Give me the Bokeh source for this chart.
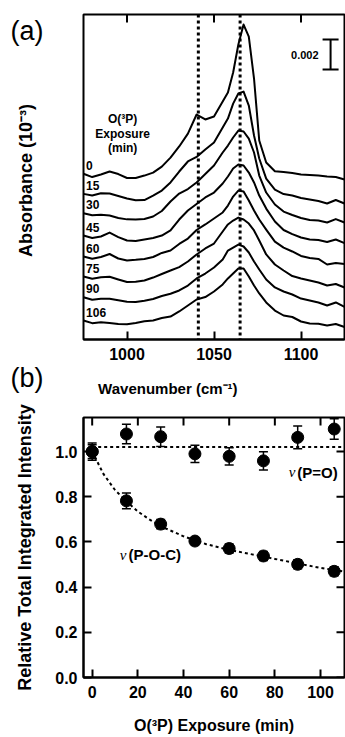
import math
from bokeh.plotting import figure
from bokeh.layouts import column, row
from bokeh.models import (Range1d, LinearAxis, FixedTicker, Span,
                          ColumnDataSource, Whisker, TeeHead, PrintfTickFormatter)
from bokeh.core.properties import value
from bokeh.embed import file_html
from bokeh.resources import INLINE

# ---------------- data: panel (a) ----------------
wavenumber = [975, 980, 985, 990, 995, 1000, 1005, 1010, 1015, 1020, 1025, 1030,
              1035, 1040, 1045, 1050, 1055, 1058, 1061, 1064, 1067, 1070, 1073,
              1076, 1080, 1085, 1090, 1095, 1100, 1105, 1110, 1115, 1120, 1125]
# stacked absorbance traces (units of 1e-3, vertical offsets included as displayed)
abs_0 = [11.05, 10.83, 11.00, 11.20, 11.03, 10.77, 10.77, 10.93, 11.13, 11.53,
         12.13, 12.87, 13.73, 15.00, 14.67, 14.87, 15.87, 16.47, 17.80, 19.67,
         21.00, 20.20, 17.40, 13.27, 11.80, 11.22, 11.17, 11.10, 11.00, 10.97,
         10.93, 10.87, 10.83, 10.67]
abs_15 = [9.71, 9.60, 9.75, 9.73, 9.57, 9.40, 9.28, 9.30, 9.60, 9.93,
          10.47, 11.20, 11.87, 12.17, 12.67, 13.13, 14.13, 14.73, 15.73, 16.40,
          16.53, 15.60, 13.60, 12.07, 10.73, 10.00, 9.70, 9.60, 9.43, 9.33,
          9.23, 9.07, 9.30, 9.07]
abs_30 = [8.42, 8.29, 8.32, 8.27, 8.10, 8.01, 8.00, 8.03, 8.20, 8.57,
          9.20, 9.73, 10.03, 10.47, 11.03, 11.60, 12.47, 12.93, 13.47, 13.93,
          13.87, 13.40, 12.47, 10.93, 9.80, 9.00, 8.53, 8.30, 8.10, 7.97,
          7.93, 7.80, 8.03, 7.80]
abs_45 = [6.93, 6.77, 6.87, 7.13, 6.83, 6.60, 6.57, 6.67, 6.77, 6.93,
          7.27, 8.00, 8.60, 9.03, 9.47, 9.80, 10.40, 10.87, 11.40, 11.67,
          11.60, 11.13, 10.47, 9.60, 8.73, 7.87, 7.30, 7.03, 6.80, 6.67,
          6.63, 6.50, 6.67, 6.43]
abs_60 = [5.53, 5.38, 5.50, 5.70, 5.40, 5.27, 5.31, 5.37, 5.50, 5.77,
          5.93, 6.37, 6.73, 7.30, 7.67, 8.07, 8.47, 8.93, 9.53, 9.93,
          9.87, 9.27, 8.60, 8.00, 7.33, 6.53, 6.13, 5.87, 5.57, 5.43,
          5.37, 5.00, 5.10, 5.03]
abs_75 = [4.20, 4.05, 4.15, 4.18, 4.00, 3.83, 3.85, 3.93, 4.13, 4.37,
          4.60, 4.83, 5.20, 5.67, 6.07, 6.40, 7.20, 7.67, 7.93, 8.13,
          8.00, 7.73, 7.27, 6.60, 5.67, 5.00, 4.60, 4.23, 4.07, 3.93,
          3.80, 3.60, 3.70, 3.47]
abs_90 = [2.82, 2.65, 2.71, 2.71, 2.61, 2.52, 2.50, 2.59, 2.70, 2.90,
          3.05, 3.27, 3.60, 4.07, 4.40, 4.80, 5.33, 5.93, 6.13, 6.33,
          6.20, 5.80, 5.20, 4.67, 4.00, 3.47, 3.20, 3.00, 2.73, 2.60,
          2.47, 2.27, 2.47, 2.17]
abs_106 = [1.27, 1.09, 1.15, 1.10, 1.03, 1.01, 1.10, 1.21, 1.27, 1.43,
           1.53, 1.87, 2.27, 2.67, 2.83, 3.20, 3.67, 4.07, 4.40, 4.73,
           4.73, 4.20, 3.60, 3.07, 2.47, 1.93, 1.60, 1.50, 1.20, 1.07,
           1.05, 0.93, 1.03, 0.83]
trace_labels = ["0", "15", "30", "45", "60", "75", "90", "106"]
legend_title = ["O(³P)", "Exposure", "(min)"]
peak_positions = [1041, 1065]
wn_ticks = [1000, 1050, 1100]
scale_bar_value = 2.0   # 0.002 absorbance
scale_bar_text = "0.002"

# ---------------- data: panel (b) ----------------
exposure_min = [0, 15, 30, 45, 60, 75, 90, 106]
p_o = [1.00, 1.078, 1.066, 0.99, 0.979, 0.959, 1.063, 1.10]
p_o_err = [0.038, 0.043, 0.043, 0.038, 0.038, 0.04, 0.05, 0.045]
p_o_c = [1.00, 0.782, 0.679, 0.604, 0.571, 0.538, 0.501, 0.470]
p_o_c_err = [0.03, 0.035, 0.02, 0.015, 0.02, 0.02, 0.02, 0.02]
p_o_fit_level = 1.02
fit_t = [0, 5, 10, 15, 20, 25, 30, 40, 50, 60, 70, 80, 90, 100, 110]
fit_p_o_c = [1.0, 0.90, 0.83, 0.78, 0.735, 0.70, 0.67, 0.625, 0.59, 0.565,
             0.545, 0.525, 0.505, 0.485, 0.47]
exp_ticks = [0, 20, 40, 60, 80, 100]
rel_ticks = [0.0, 0.2, 0.4, 0.6, 0.8, 1.0]

FONT = "Liberation Sans"
traces = [abs_0, abs_15, abs_30, abs_45, abs_60, abs_75, abs_90, abs_106]


def style_axis(ax, ticks):
    ax.ticker = FixedTicker(ticks=ticks)
    ax.major_tick_in = 8
    ax.major_tick_out = 0
    ax.minor_tick_in = 0
    ax.minor_tick_out = 0
    ax.major_tick_line_width = 2
    ax.major_tick_line_color = "black"
    ax.axis_line_width = 2
    ax.axis_line_color = "black"
    ax.major_label_text_font = FONT
    ax.major_label_text_font_style = "bold"
    ax.major_label_text_color = "black"
    ax.major_label_text_font_size = "16px"
    ax.axis_label_text_font = FONT
    ax.axis_label_text_font_style = "bold"
    ax.axis_label_text_color = "black"


def blank_fig(w, h):
    f = figure(width=w, height=h, output_backend="svg", toolbar_location=None,
               x_range=Range1d(0, w), y_range=Range1d(0, h),
               x_axis_location=None, y_axis_location=None,
               min_border=0, min_border_left=0, min_border_right=0,
               min_border_top=0, min_border_bottom=0)
    f.grid.visible = False
    f.outline_line_color = None
    return f


def mirror_ticks(p, xticks=None, yticks=None):
    if xticks is not None:
        p.ray(x=xticks, y=[p.y_range.end] * len(xticks), length=8, angle=-math.pi / 2,
              length_units="screen", line_color="black", line_width=2)
    if yticks is not None:
        p.ray(x=[p.x_range.end] * len(yticks), y=yticks, length=8, angle=math.pi,
              length_units="screen", line_color="black", line_width=2)


# ---------------- left text column for panel (a) / (b) labels ----------------
LW, TOPH = 82, 400
left = blank_fig(LW, TOPH)
left.text(x=[10], y=[TOPH - 30], text=["(a)"], text_font=value(FONT),
          text_font_size="27px", text_baseline="middle", text_align="left",
          text_color="black")
left.text(x=[10], y=[TOPH - 377], text=["(b)"], text_font=value(FONT),
          text_font_size="27px", text_baseline="middle", text_align="left",
          text_color="black")
left.text(x=[25], y=[TOPH - 180], text=["Absorbance (10⁻³)"], angle=math.pi / 2,
          text_font=value(FONT), text_font_style="bold", text_font_size="18px",
          text_baseline="middle", text_align="center", text_color="black")

# ---------------- panel (a) ----------------
pa = figure(width=345 - LW, height=368, output_backend="svg", toolbar_location=None,
            x_range=Range1d(975, 1125), y_range=Range1d(0, 21.67),
            x_axis_location=None, y_axis_location=None,
            min_border_left=1, min_border_right=1, min_border_top=14,
            min_border_bottom=29)
pa.grid.visible = False
pa.outline_line_color = "black"
pa.outline_line_width = 2
pa.outline_line_alpha = 1.0

ax_b = LinearAxis()
style_axis(ax_b, wn_ticks)
ax_b.major_label_standoff = 8
pa.add_layout(ax_b, "below")
mirror_ticks(pa, xticks=wn_ticks)

for loc in peak_positions:
    pa.add_layout(Span(location=loc, dimension="height", line_color="black",
                       line_width=3, line_dash="3 3"))

for tr in traces:
    pa.line(wavenumber, tr, line_color="black", line_width=2, line_join="round")

pa.text(x=[wavenumber[0] + 1.5] * len(traces), y=[tr[0] + 0.55 for tr in traces],
        text=trace_labels, text_font=value(FONT), text_font_style="bold",
        text_font_size="12px", text_baseline="middle", text_align="left",
        text_color="black")

pa.text(x=[997.5] * 3, y=[14.67, 13.7, 12.77], text=legend_title,
        text_font=value(FONT), text_font_style="bold", text_font_size="12px",
        text_baseline="middle", text_align="center", text_color="black")

# scale bar
bx, btop = 1117.0, 20.0
bbot = btop - scale_bar_value
cap = 4.6
pa.segment(x0=[bx, bx - cap, bx - cap], y0=[bbot, btop, bbot],
           x1=[bx, bx + cap, bx + cap], y1=[btop, btop, bbot],
           line_color="black", line_width=2)
pa.text(x=[bx], y=[(btop + bbot) / 2], text=[scale_bar_text], x_offset=-12,
        text_font=value(FONT), text_font_style="bold", text_font_size="11px",
        text_baseline="middle", text_align="right", text_color="black")

# strip under panel (a) holding its x-axis title
strip = blank_fig(345 - LW, TOPH - 368)
strip.text(x=[167 - LW], y=[12], text=["Wavenumber (cm⁻¹)"],
           text_font=value(FONT), text_font_style="bold", text_font_size="15px",
           text_baseline="middle", text_align="center", text_color="black")

# ---------------- panel (b) ----------------
pb = figure(width=345, height=337, output_backend="svg", toolbar_location=None,
            x_range=Range1d(-3.8, 110.5), y_range=Range1d(0, 1.151),
            x_axis_location=None, y_axis_location=None,
            min_border_left=83, min_border_right=1, min_border_top=17,
            min_border_bottom=60)
pb.grid.visible = False
pb.outline_line_color = "black"
pb.outline_line_width = 2
pb.outline_line_alpha = 1.0

bx_ax = LinearAxis(axis_label="O(³P) Exposure (min)")
style_axis(bx_ax, exp_ticks)
bx_ax.major_label_standoff = 8
bx_ax.axis_label_standoff = 16
bx_ax.axis_label_text_font_size = "16px"
pb.add_layout(bx_ax, "below")
ly_ax = LinearAxis(axis_label="Relative Total Integrated Intensity")
style_axis(ly_ax, rel_ticks)
ly_ax.formatter = PrintfTickFormatter(format="%.1f")
ly_ax.major_label_standoff = 6
ly_ax.axis_label_standoff = 17
ly_ax.axis_label_text_font_size = "18px"
pb.add_layout(ly_ax, "left")
mirror_ticks(pb, xticks=exp_ticks, yticks=rel_ticks)

pb.line([exposure_min[0], pb.x_range.end], [p_o_fit_level, p_o_fit_level],
        line_color="black", line_width=2, line_dash="3 3")
pb.line(fit_t, fit_p_o_c, line_color="black", line_width=2, line_dash="3 3")

for vals, errs in ((p_o, p_o_err), (p_o_c, p_o_c_err)):
    src = ColumnDataSource(dict(x=exposure_min, y=vals,
                                upper=[v + e for v, e in zip(vals, errs)],
                                lower=[v - e for v, e in zip(vals, errs)]))
    pb.add_layout(Whisker(base="x", upper="upper", lower="lower", source=src,
                          line_color="black", line_width=1.5,
                          upper_head=TeeHead(size=9, line_width=1.5, line_color="black"),
                          lower_head=TeeHead(size=9, line_width=1.5, line_color="black")))
    pb.scatter("x", "y", source=src, size=12, marker="circle",
               fill_color="black", line_color="black")

pb.text(x=[89.85], y=[0.908], text=["(P=O)"], text_font=value(FONT),
        text_font_style="bold", text_font_size="15px", text_baseline="middle",
        text_align="left", text_color="black")
pb.text(x=[89.85], y=[0.908], text=["ν"], x_offset=-2, text_font=value("Liberation Serif"),
        text_font_style="italic", text_font_size="15px", text_baseline="middle",
        text_align="right", text_color="black")
pb.text(x=[15.9], y=[0.544], text=["(P-O-C)"], text_font=value(FONT),
        text_font_style="bold", text_font_size="15px", text_baseline="middle",
        text_align="left", text_color="black")
pb.text(x=[15.9], y=[0.544], text=["ν"], x_offset=-2, text_font=value("Liberation Serif"),
        text_font_style="italic", text_font_size="15px", text_baseline="middle",
        text_align="right", text_color="black")

top = row(left, column(pa, strip, spacing=0), spacing=0)
layout = column(top, pb, spacing=0)
open("out.html", "w").write(file_html(layout, INLINE))
